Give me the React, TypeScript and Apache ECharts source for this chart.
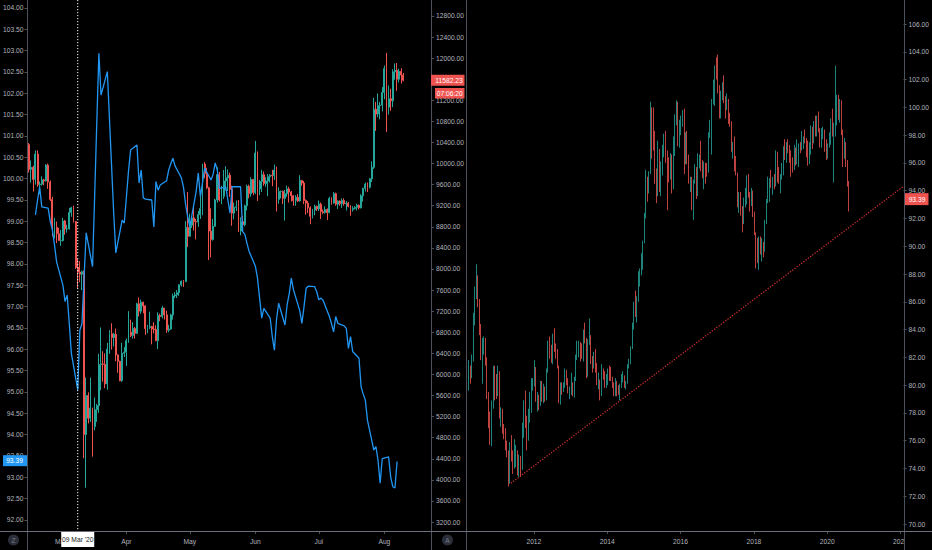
import React, { useEffect, useRef } from "react";
import * as echarts from "echarts";

// ---------------- data ----------------
const MONTH_NAMES = ["Jan", "Feb", "Mar", "Apr", "May", "Jun", "Jul", "Aug", "Sep", "Oct", "Nov", "Dec"];

// BTC/USD daily candles [open, high, low, close], one per day from btcStart
const btcStart = "2020-02-15";
const btcOHLC: number[][] = [
  [10360, 10390, 9830, 9890], [9890, 10060, 9640, 9930], [9930, 9960, 9470, 9700], [9700, 10250, 9600, 10180],
  [10180, 10250, 9560, 9600], [9600, 9660, 9420, 9610], [9610, 9760, 9580, 9690], [9690, 9710, 9590, 9670],
  [9670, 9990, 9660, 9970], [9970, 10000, 9520, 9650], [9650, 9680, 9290, 9320], [9320, 9370, 8620, 8780],
  [8780, 8970, 8580, 8790], [8790, 8900, 8490, 8670], [8670, 8780, 8530, 8540],
  // Mar
  [8540, 8740, 8440, 8540], [8540, 8970, 8520, 8910], [8910, 8930, 8650, 8760], [8760, 8840, 8690, 8760],
  [8760, 9160, 8750, 9070], [9070, 9180, 8990, 9160], [9160, 9200, 8880, 8900], [8900, 8910, 8000, 8030],
  [8030, 8190, 7630, 7940], [7940, 8150, 7750, 7900], [7900, 7970, 7600, 7950], [7930, 7970, 4410, 4860],
  [4860, 5940, 3850, 5600], [5600, 5660, 5070, 5170], [5170, 5940, 5100, 5360], [5360, 5370, 4440, 5010],
  [5010, 5560, 4940, 5330], [5330, 5440, 5100, 5410], [5410, 6390, 5270, 6190], [6190, 6890, 5700, 6200],
  [6200, 6440, 5860, 6190], [6190, 6400, 5740, 5820], [5820, 6600, 5710, 6480], [6480, 6840, 6390, 6770],
  [6770, 6970, 6470, 6700], [6700, 6790, 6530, 6760], [6760, 6870, 6250, 6370], [6370, 6380, 6030, 6250],
  [6250, 6260, 5870, 5880], [5880, 6600, 5860, 6400], [6400, 6520, 6330, 6420],
  // Apr
  [6420, 6680, 6160, 6640], [6640, 7200, 6600, 6800], [6800, 7040, 6710, 6740], [6740, 6990, 6680, 6870],
  [6870, 6900, 6680, 6780], [6780, 7360, 6770, 7340], [7340, 7460, 7100, 7200], [7200, 7420, 7150, 7370],
  [7370, 7380, 7160, 7300], [7300, 7310, 6750, 6870], [6870, 6940, 6780, 6890], [6890, 7190, 6860, 6910],
  [6910, 6920, 6570, 6860], [6860, 6990, 6780, 6850], [6850, 6930, 6630, 6640], [6640, 7180, 6480, 7120],
  [7120, 7150, 7010, 7100], [7100, 7300, 7060, 7260], [7260, 7260, 7040, 7130], [7130, 7210, 6790, 6840],
  [6840, 6940, 6800, 6860], [6860, 7150, 6850, 7130], [7130, 7530, 7040, 7490], [7490, 7560, 7450, 7510],
  [7510, 7600, 7450, 7550], [7550, 7710, 7490, 7700], [7700, 7780, 7670, 7770], [7770, 7790, 7660, 7760],
  [7760, 8910, 7750, 8790], [8790, 9460, 8420, 8620],
  // May
  [8620, 9050, 8620, 8830], [8830, 9000, 8780, 8970], [8970, 9190, 8730, 8900], [8900, 8950, 8560, 8890],
  [8890, 9100, 8800, 9030], [9030, 9380, 8950, 9150], [9150, 10000, 9020, 9990], [9990, 10030, 9720, 9810],
  [9810, 9920, 9520, 9540], [9540, 9560, 8170, 8720], [8720, 9150, 8220, 8560], [8560, 8950, 8540, 8810],
  [8810, 9330, 8800, 9310], [9310, 9930, 9260, 9790], [9790, 9840, 9280, 9310], [9310, 9580, 9230, 9380],
  [9380, 9880, 9330, 9670], [9670, 9950, 9490, 9730], [9730, 9890, 9480, 9780], [9780, 9830, 9370, 9510],
  [9510, 9580, 8820, 9060], [9060, 9260, 8940, 9170], [9170, 9300, 9100, 9180], [9180, 9310, 8700, 8720],
  [8720, 8980, 8640, 8900], [8900, 9010, 8700, 8840], [8840, 9220, 8810, 9200], [9200, 9600, 9110, 9570],
  [9570, 9600, 9340, 9430], [9430, 9740, 9370, 9700], [9700, 9700, 9400, 9450],
  // Jun
  [9450, 10430, 9420, 10200], [10200, 10230, 9290, 9520], [9520, 9690, 9400, 9660], [9660, 9880, 9460, 9790],
  [9790, 9850, 9580, 9620], [9620, 9740, 9560, 9670], [9670, 9800, 9380, 9750], [9750, 9800, 9640, 9780],
  [9780, 9880, 9570, 9770], [9770, 9980, 9690, 9880], [9880, 9940, 9090, 9320], [9320, 9550, 9240, 9470],
  [9470, 9490, 9340, 9470], [9470, 9490, 9230, 9340], [9340, 9500, 8920, 9430], [9430, 9580, 9370, 9520],
  [9520, 9560, 9260, 9460], [9460, 9480, 9280, 9390], [9390, 9400, 9200, 9300], [9300, 9400, 9200, 9360],
  [9360, 9420, 9270, 9290], [9290, 9780, 9280, 9680], [9680, 9690, 9580, 9630], [9630, 9670, 9230, 9300],
  [9300, 9320, 9030, 9250], [9250, 9290, 9060, 9160], [9160, 9190, 8850, 9000], [9000, 9140, 8960, 9120],
  [9120, 9220, 9020, 9190], [9190, 9200, 9100, 9140],
  // Jul
  [9140, 9300, 9100, 9230], [9230, 9260, 8950, 9090], [9090, 9130, 9040, 9070], [9070, 9190, 9050, 9130],
  [9130, 9150, 8930, 9070], [9070, 9370, 9060, 9340], [9340, 9360, 9220, 9250], [9250, 9460, 9240, 9430],
  [9430, 9450, 9200, 9230], [9230, 9300, 9140, 9290], [9290, 9300, 9200, 9240], [9240, 9340, 9160, 9300],
  [9300, 9340, 9200, 9240], [9240, 9290, 9110, 9250], [9250, 9270, 9170, 9190], [9190, 9210, 9010, 9130],
  [9130, 9190, 9090, 9150], [9150, 9190, 9130, 9170], [9170, 9240, 9110, 9210], [9210, 9220, 9130, 9160],
  [9160, 9420, 9150, 9390], [9390, 9540, 9280, 9530], [9530, 9640, 9470, 9610], [9610, 9640, 9460, 9550],
  [9550, 9730, 9530, 9710], [9710, 10040, 9650, 9930], [9930, 11250, 9900, 11030], [11030, 11170, 10620, 10940],
  [10940, 11330, 10880, 11100], [11100, 11170, 10840, 11110], [11110, 11450, 10990, 11350],
  // Aug
  [11350, 11860, 11220, 11800], [11800, 12100, 10600, 11070], [11070, 11480, 10930, 11230], [11230, 11420, 11000, 11190],
  [11190, 11790, 11070, 11740], [11740, 11900, 11590, 11770], [11770, 11910, 11380, 11600], [11600, 11800, 11540, 11750],
  [11750, 11810, 11520, 11680], [11680, 11720, 11560, 11582.23],
];

// US Dollar Index daily closes (overlay line on the left axis)
const dxyDaily: [string, number][] = [
  ["2020-02-18", 99.15], ["2020-02-19", 99.5], ["2020-02-20", 99.81], ["2020-02-21", 99.34],
  ["2020-02-24", 99.31], ["2020-02-25", 99.0], ["2020-02-26", 98.8], ["2020-02-27", 98.45], ["2020-02-28", 98.05],
  ["2020-03-02", 97.5], ["2020-03-03", 97.12], ["2020-03-04", 97.27], ["2020-03-05", 96.6], ["2020-03-06", 95.9],
  ["2020-03-09", 95.05], ["2020-03-10", 96.45], ["2020-03-11", 96.6], ["2020-03-12", 97.7], ["2020-03-13", 98.73],
  ["2020-03-16", 97.94], ["2020-03-17", 99.6], ["2020-03-18", 101.3], ["2020-03-19", 102.94], ["2020-03-20", 101.96],
  ["2020-03-23", 102.51], ["2020-03-24", 101.4], ["2020-03-25", 100.3], ["2020-03-26", 99.2], ["2020-03-27", 98.26],
  ["2020-03-30", 99.03], ["2020-03-31", 98.96], ["2020-04-01", 99.56], ["2020-04-02", 100.17], ["2020-04-03", 100.67],
  ["2020-04-06", 100.79], ["2020-04-07", 99.9], ["2020-04-08", 100.2], ["2020-04-09", 99.55], ["2020-04-10", 99.52],
  ["2020-04-13", 99.5], ["2020-04-14", 98.87], ["2020-04-15", 99.93], ["2020-04-16", 99.73], ["2020-04-17", 99.85],
  ["2020-04-20", 99.95], ["2020-04-21", 100.2], ["2020-04-22", 100.35], ["2020-04-23", 100.48], ["2020-04-24", 100.3],
  ["2020-04-27", 100.02], ["2020-04-28", 99.8], ["2020-04-29", 99.4], ["2020-04-30", 99.1], ["2020-05-01", 98.87],
  ["2020-05-04", 99.7], ["2020-05-05", 100.13], ["2020-05-06", 99.58], ["2020-05-07", 99.9], ["2020-05-08", 100.25],
  ["2020-05-11", 99.97], ["2020-05-12", 100.1], ["2020-05-13", 100.37], ["2020-05-14", 100.2], ["2020-05-15", 99.77],
  ["2020-05-18", 99.81], ["2020-05-19", 99.5], ["2020-05-20", 99.19], ["2020-05-21", 99.81], ["2020-05-22", 99.81],
  ["2020-05-25", 99.81], ["2020-05-26", 98.76], ["2020-05-27", 98.7], ["2020-05-28", 98.49], ["2020-05-29", 98.3],
  ["2020-06-01", 97.95], ["2020-06-02", 97.67], ["2020-06-03", 97.2], ["2020-06-04", 96.73], ["2020-06-05", 96.96],
  ["2020-06-08", 96.73], ["2020-06-09", 96.3], ["2020-06-10", 95.98], ["2020-06-11", 96.7], ["2020-06-12", 97.08],
  ["2020-06-15", 96.57], ["2020-06-16", 97.04], ["2020-06-17", 97.3], ["2020-06-18", 97.67], ["2020-06-19", 97.4],
  ["2020-06-22", 96.9], ["2020-06-23", 96.61], ["2020-06-24", 97.0], ["2020-06-25", 97.43], ["2020-06-26", 97.48],
  ["2020-06-29", 97.47], ["2020-06-30", 97.35], ["2020-07-01", 97.16], ["2020-07-02", 97.2], ["2020-07-03", 97.15],
  ["2020-07-06", 96.77], ["2020-07-07", 96.6], ["2020-07-08", 96.41], ["2020-07-09", 96.77], ["2020-07-10", 96.61],
  ["2020-07-13", 96.55], ["2020-07-14", 96.49], ["2020-07-15", 96.02], ["2020-07-16", 96.3], ["2020-07-17", 95.95],
  ["2020-07-20", 95.79], ["2020-07-21", 95.12], ["2020-07-22", 94.95], ["2020-07-23", 94.81], ["2020-07-24", 94.34],
  ["2020-07-27", 93.64], ["2020-07-28", 93.72], ["2020-07-29", 93.4], ["2020-07-30", 92.86], ["2020-07-31", 93.44],
  ["2020-08-03", 93.48], ["2020-08-04", 93.0], ["2020-08-05", 92.78], ["2020-08-06", 92.75], ["2020-08-07", 93.37],
];

// US Dollar Index long-term candles [open, high, low, close], two per month from 2010-03
const dxyLongStart = "2010-03";
const dxyLongOHLC: number[][] = [
  // 2010
  [80.4, 80.9, 79.6, 79.9], [79.9, 81.8, 79.6, 81.2], [81.2, 81.4, 80.1, 80.6], [80.6, 82.2, 80.5, 81.9],
  [81.9, 85.2, 81.7, 84.6], [84.6, 87.1, 84.3, 86.8], [86.8, 88.7, 86.2, 87.4], [87.4, 87.9, 85.6, 86.0],
  [86.0, 86.2, 83.6, 84.0], [84.0, 84.4, 81.8, 82.3], [82.3, 83.4, 80.1, 82.8], [82.8, 83.5, 82.2, 83.1],
  [83.1, 83.4, 81.4, 81.7], [81.7, 82.0, 79.0, 79.3], [79.3, 79.5, 76.9, 77.1], [77.1, 78.1, 75.7, 77.0],
  [77.0, 78.9, 75.6, 78.6], [78.6, 81.4, 78.3, 81.1], [81.1, 81.4, 78.9, 80.0], [80.0, 80.8, 79.0, 79.3],
  // 2011
  [79.3, 81.4, 79.2, 80.9], [80.9, 81.0, 77.6, 77.9], [77.9, 78.4, 77.0, 78.0], [78.0, 78.3, 76.5, 76.8],
  [76.8, 77.2, 76.1, 76.6], [76.6, 76.9, 75.3, 75.9], [75.9, 76.0, 74.8, 75.0], [75.0, 75.3, 72.7, 73.0],
  [73.0, 75.9, 72.9, 75.7], [75.7, 76.4, 74.5, 74.6], [74.6, 75.3, 73.6, 74.3], [74.3, 76.1, 74.0, 74.4],
  [74.4, 75.7, 74.1, 74.8], [74.8, 75.3, 73.5, 73.9], [73.9, 75.0, 73.4, 74.2], [74.2, 74.9, 73.4, 74.1],
  [74.1, 77.3, 73.9, 76.9], [76.9, 78.9, 76.2, 78.6], [78.6, 79.6, 76.9, 77.4], [77.4, 77.8, 75.3, 76.2],
  [76.2, 78.3, 76.0, 77.5], [77.5, 79.5, 77.3, 78.4], [78.4, 80.5, 78.0, 80.0], [80.0, 80.5, 79.6, 80.2],
  // 2012
  [80.2, 81.8, 79.9, 81.2], [81.2, 81.3, 78.8, 79.0], [79.0, 79.5, 78.1, 79.0], [79.0, 79.3, 78.2, 78.6],
  [78.6, 80.3, 78.5, 80.0], [80.0, 80.3, 78.8, 79.0], [79.0, 80.1, 78.7, 79.6], [79.6, 79.9, 78.8, 79.1],
  [79.1, 81.2, 78.9, 81.0], [81.0, 83.2, 80.9, 83.1], [83.1, 83.5, 81.9, 82.3], [82.3, 82.9, 81.6, 81.7],
  [81.7, 83.7, 81.5, 83.3], [83.3, 84.1, 82.4, 82.7], [82.7, 83.0, 81.9, 82.4], [82.4, 82.6, 81.2, 81.3],
  [81.3, 81.4, 78.7, 79.0], [79.0, 80.2, 78.6, 79.9], [79.9, 80.2, 79.3, 79.7], [79.7, 80.2, 79.5, 80.1],
  [80.1, 81.2, 79.8, 81.0], [81.0, 81.1, 80.0, 80.2], [80.2, 80.5, 79.4, 79.5], [79.5, 79.9, 79.0, 79.8],
  // 2013
  [79.8, 80.9, 79.3, 79.9], [79.9, 80.2, 79.2, 79.3], [79.3, 80.6, 79.1, 80.4], [80.4, 82.2, 80.3, 81.9],
  [81.9, 83.2, 81.8, 82.7], [82.7, 83.2, 82.0, 83.0], [83.0, 83.1, 81.7, 82.2], [82.2, 83.0, 81.9, 82.0],
  [82.0, 84.0, 81.7, 83.8], [83.8, 84.5, 83.0, 83.3], [83.3, 83.4, 80.5, 80.9], [80.9, 83.3, 80.6, 83.1],
  [83.1, 84.8, 82.9, 83.2], [83.2, 83.6, 81.5, 81.8], [81.8, 82.1, 80.9, 81.4], [81.4, 82.4, 81.2, 82.1],
  [82.1, 82.6, 80.9, 81.3], [81.3, 81.6, 80.0, 80.2], [80.2, 80.9, 79.7, 80.3], [80.3, 80.4, 78.9, 79.3],
  [79.3, 81.5, 79.2, 81.0], [81.0, 81.2, 80.4, 80.7], [80.7, 81.0, 79.8, 80.0], [80.0, 80.8, 79.8, 80.2],
  // 2014
  [80.2, 81.2, 80.0, 81.1], [81.1, 81.4, 80.3, 80.9], [80.9, 81.3, 80.3, 80.4], [80.4, 80.6, 79.8, 79.9],
  [79.9, 80.2, 79.2, 79.3], [79.3, 80.5, 79.2, 80.1], [80.1, 80.3, 79.2, 79.6], [79.6, 80.0, 79.3, 79.5],
  [79.5, 80.1, 78.9, 80.0], [80.0, 80.8, 79.8, 80.5], [80.5, 81.0, 80.2, 80.6], [80.6, 80.7, 79.8, 79.9],
  [79.9, 80.3, 79.7, 80.2], [80.2, 81.5, 80.1, 81.4], [81.4, 81.9, 81.2, 81.6], [81.6, 82.8, 81.5, 82.7],
  [82.7, 84.5, 82.6, 84.3], [84.3, 86.0, 84.0, 85.9], [85.9, 86.8, 84.9, 85.2], [85.2, 86.4, 84.5, 86.1],
  [86.1, 88.2, 86.0, 87.6], [87.6, 88.4, 87.1, 88.3], [88.3, 89.5, 87.9, 88.5], [88.5, 90.4, 88.3, 90.3],
  // 2015
  [90.3, 92.4, 90.2, 92.3], [92.3, 95.5, 92.0, 94.8], [94.8, 95.0, 93.2, 94.1], [94.1, 95.4, 93.8, 95.3],
  [95.3, 100.4, 95.2, 99.3], [99.3, 100.0, 96.3, 98.4], [98.4, 100.0, 96.9, 98.0], [98.0, 98.3, 94.5, 94.6],
  [94.6, 95.6, 93.1, 93.7], [93.7, 97.6, 93.6, 96.9], [96.9, 97.0, 93.9, 94.5], [94.5, 96.1, 93.6, 95.5],
  [95.5, 97.3, 95.1, 97.0], [97.0, 98.1, 96.4, 97.3], [97.3, 98.3, 96.0, 96.5], [96.5, 96.9, 92.6, 95.9],
  [95.9, 96.4, 94.6, 95.1], [95.1, 96.7, 94.8, 96.4], [96.4, 96.6, 93.8, 94.5], [94.5, 97.9, 94.1, 96.9],
  [96.9, 99.5, 96.5, 99.0], [99.0, 100.5, 98.7, 100.2], [100.2, 100.4, 97.2, 97.5], [97.5, 99.1, 97.1, 98.6],
  // 2016
  [98.6, 99.4, 98.0, 99.0], [99.0, 99.8, 98.6, 99.6], [99.6, 99.9, 95.2, 96.0], [96.0, 98.2, 95.9, 98.1],
  [98.1, 98.3, 95.9, 96.3], [96.3, 96.6, 94.5, 94.6], [94.6, 95.0, 93.9, 94.6], [94.6, 95.0, 92.6, 93.1],
  [93.1, 94.8, 91.9, 94.6], [94.6, 95.9, 94.5, 95.6], [95.6, 95.7, 93.4, 94.2], [94.2, 96.7, 93.6, 96.0],
  [96.0, 96.6, 95.6, 96.5], [96.5, 97.6, 95.4, 95.6], [95.6, 96.2, 94.9, 95.2], [95.2, 96.1, 94.1, 96.0],
  [96.0, 96.0, 94.5, 95.6], [95.6, 96.0, 95.0, 95.4], [95.4, 98.2, 95.3, 97.9], [97.9, 99.1, 97.8, 98.4],
  [98.4, 100.6, 96.6, 100.4], [100.4, 102.0, 100.2, 101.5], [101.5, 103.0, 100.1, 102.9], [102.9, 103.6, 102.0, 102.2],
  // 2017
  [102.2, 103.8, 101.0, 101.3], [101.3, 101.6, 99.2, 99.5], [99.5, 101.2, 99.2, 100.9], [100.9, 101.8, 100.5, 101.1],
  [101.1, 102.3, 100.3, 100.6], [100.6, 100.8, 99.2, 100.3], [100.3, 101.0, 99.8, 100.5], [100.5, 100.6, 98.8, 99.0],
  [99.0, 99.6, 98.6, 98.9], [98.9, 99.0, 96.8, 97.0], [97.0, 97.5, 96.3, 97.2], [97.2, 97.9, 95.4, 95.6],
  [95.6, 96.5, 95.1, 95.2], [95.2, 95.3, 92.8, 92.9], [92.9, 93.9, 92.4, 93.4], [93.4, 93.9, 92.2, 92.7],
  [92.7, 92.9, 91.0, 91.9], [91.9, 93.5, 91.6, 93.1], [93.1, 94.2, 92.8, 93.1], [93.1, 95.1, 93.0, 94.6],
  [94.6, 95.2, 93.5, 93.7], [93.7, 93.9, 92.5, 93.0], [93.0, 94.2, 92.9, 93.9], [93.9, 94.0, 92.1, 92.2],
  // 2018
  [92.2, 92.5, 90.8, 90.9], [90.9, 91.0, 88.4, 89.1], [89.1, 90.6, 88.8, 89.0], [89.0, 90.7, 88.3, 90.6],
  [90.6, 90.7, 89.4, 90.1], [90.1, 90.6, 88.9, 90.1], [90.1, 90.3, 89.2, 89.8], [89.8, 91.9, 89.6, 91.7],
  [91.7, 93.4, 91.6, 93.3], [93.3, 95.0, 93.1, 94.0], [94.0, 94.9, 93.2, 94.8], [94.8, 95.5, 94.2, 94.6],
  [94.6, 95.0, 93.7, 94.7], [94.7, 95.2, 94.1, 94.5], [94.5, 96.9, 94.3, 96.7], [96.7, 96.8, 94.6, 95.1],
  [95.1, 95.7, 94.5, 94.9], [94.9, 95.2, 93.8, 95.1], [95.1, 96.0, 94.8, 95.3], [95.3, 97.2, 95.1, 96.9],
  [96.9, 97.7, 96.2, 96.5], [96.5, 97.5, 96.0, 97.2], [97.2, 97.7, 96.7, 97.0], [97.0, 97.3, 96.0, 96.2],
  // 2019
  [96.2, 96.9, 95.0, 95.7], [95.7, 96.4, 95.3, 95.6], [95.6, 97.3, 95.5, 96.9], [96.9, 97.1, 95.8, 96.2],
  [96.2, 97.7, 95.9, 96.6], [96.6, 97.4, 95.7, 97.3], [97.3, 97.5, 96.7, 97.0], [97.0, 98.3, 96.9, 97.5],
  [97.5, 97.9, 97.0, 97.8], [97.8, 98.4, 97.4, 97.7], [97.7, 97.8, 96.4, 97.2], [97.2, 97.6, 95.8, 96.1],
  [96.1, 97.5, 95.9, 96.8], [96.8, 98.7, 96.6, 98.5], [98.5, 98.6, 97.0, 98.1], [98.1, 99.0, 97.4, 98.9],
  [98.9, 99.4, 97.9, 98.4], [98.4, 99.4, 97.9, 99.1], [99.1, 99.7, 98.2, 98.3], [98.3, 98.5, 97.1, 97.4],
  [97.4, 98.5, 97.1, 98.3], [98.3, 98.6, 97.7, 98.3], [98.3, 98.4, 96.8, 97.2], [97.2, 97.7, 96.2, 96.4],
  // 2020
  [96.4, 97.4, 96.3, 97.3], [97.3, 98.2, 97.1, 97.4], [97.4, 99.2, 97.3, 99.1], [99.1, 99.9, 97.9, 98.1],
  [98.1, 98.9, 94.6, 98.7], [98.7, 103.0, 97.9, 99.0], [99.0, 100.9, 98.7, 99.4], [99.4, 100.9, 99.1, 99.0],
  [99.0, 100.6, 98.9, 100.4], [100.4, 100.5, 98.0, 98.3], [98.3, 98.4, 95.7, 97.0], [97.0, 97.8, 96.3, 97.4],
  [97.4, 97.5, 95.7, 96.0], [96.0, 96.2, 94.3, 94.6], [94.6, 94.7, 92.5, 93.39],
];

// red dotted support trend line on the long-term panel
const trendLine: [string, number][] = [["2011-05-17", 72.93], ["2022-01-31", 94.32]];

// tick labels
const leftTicks = [92.0, 92.5, 93.0, 93.5, 94.0, 94.5, 95.0, 95.5, 96.0, 96.5, 97.0, 97.5, 98.0, 98.5, 99.0, 99.5, 100.0, 100.5, 101.0, 101.5, 102.0, 102.5, 103.0, 103.5, 104.0];
const btcTicks = [3200, 3600, 4000, 4400, 4800, 5200, 5600, 6000, 6400, 6800, 7200, 7600, 8000, 8400, 8800, 9200, 9600, 10000, 10400, 10800, 11200, 11600, 12000, 12400, 12800];
const rightTicks = [70, 72, 74, 76, 78, 80, 82, 84, 86, 88, 90, 92, 94, 96, 98, 100, 102, 104, 106];
const monthTicks = ["2020-03-01", "2020-04-01", "2020-05-01", "2020-06-01", "2020-07-01", "2020-08-01"];
const yearTicks = ["2012-01-01", "2014-01-01", "2016-01-01", "2018-01-01", "2020-01-01", "2022-01-01"];

// badges
const lastBtcPrice = 11582.23;
const barCountdown = "07:06:20";
const lastDxyPrice = 93.39;
const crosshairDate = "2020-03-09";
const crosshairLabel = "09 Mar '20";

// ---------------- helpers / styles ----------------
const DAY = 86400000;
const t = (s: string) => Date.UTC(+s.slice(0, 4), +s.slice(5, 7) - 1, s.length > 7 ? +s.slice(8, 10) : 1);

const FONT = "'Liberation Sans', Arial, sans-serif";
const FS = 6.7;
const TEXT = "#b2b5be";
const CHROME = "#4c515c";
const UP = "#26a69a";
const DOWN = "#ef5350";
const BLUE = "#2196f3";

const W = 932;
const H = 550;
const AXIS_Y = 531;
const LEFT_AXIS_X = 27;
const MID_AXIS_X = 431;
const DIVIDER_X = 466;
const RIGHT_PANEL_X = 467;
const RIGHT_AXIS_X = 904.5;

export default function App() {
  const ref = useRef<HTMLDivElement>(null);

  useEffect(() => {
    if (!ref.current) return;
    const chart = echarts.init(ref.current, null, { renderer: "svg" });

    const btcT0 = t(btcStart);
    const btcData = btcOHLC.map((r, i) => [btcT0 + i * DAY, r[0], r[3], r[2], r[1]]);
    const dxyLine = dxyDaily.map(([d, v]) => [t(d), v]);
    const y0 = +dxyLongStart.slice(0, 4);
    const m0 = +dxyLongStart.slice(5, 7) - 1;
    const dxyLongData = dxyLongOHLC.map((r, i) => {
      const mi = m0 + Math.floor(i / 2);
      const ts = Date.UTC(y0 + Math.floor(mi / 12), mi % 12, i % 2 === 0 ? 8 : 23);
      return [ts, r[0], r[3], r[2], r[1]];
    });

    const mar1 = t("2020-03-01");
    const labelBase = { color: TEXT, fontSize: FS, fontFamily: FONT };
    const tickStyle = { color: CHROME, width: 1 };

    const yAxisCommon = (ticks: number[], margin: number) => ({
      type: "value" as const,
      axisLine: { show: false },
      splitLine: { show: false },
      axisTick: { show: true, length: 3, customValues: ticks, lineStyle: tickStyle },
      axisLabel: { ...labelBase, margin, customValues: ticks, formatter: (v: number) => v.toFixed(2) },
    });

    const option: any = {
      animation: false,
      backgroundColor: "#000000",
      grid: [
        { left: LEFT_AXIS_X, right: W - MID_AXIS_X, top: 0, bottom: H - AXIS_Y },
        { left: RIGHT_PANEL_X, right: W - RIGHT_AXIS_X, top: 0, bottom: H - AXIS_Y },
      ],
      xAxis: [
        {
          type: "value",
          gridIndex: 0,
          min: mar1 - 15.78 * DAY,
          max: mar1 + 175.05 * DAY,
          axisLine: { show: false },
          splitLine: { show: false },
          axisTick: { show: true, length: 3, customValues: monthTicks.map(t), lineStyle: tickStyle },
          axisLabel: {
            ...labelBase,
            margin: 7,
            customValues: monthTicks.map(t),
            formatter: (v: number) => MONTH_NAMES[new Date(v).getUTCMonth()],
          },
        },
        {
          type: "value",
          gridIndex: 1,
          min: t("2010-03-06"),
          max: t("2022-01-31"),
          axisLine: { show: false },
          splitLine: { show: false },
          axisTick: { show: true, length: 3, customValues: yearTicks.map(t), lineStyle: tickStyle },
          axisLabel: {
            ...labelBase,
            margin: 7,
            customValues: yearTicks.map(t),
            formatter: (v: number) => String(new Date(v).getUTCFullYear()),
          },
        },
      ],
      yAxis: [
        { ...yAxisCommon(leftTicks, 4), gridIndex: 0, position: "left", min: 91.742, max: 104.1875 },
        { ...yAxisCommon(btcTicks, 5), gridIndex: 0, position: "right", min: 3029.3, max: 13103.5 },
        { ...yAxisCommon(rightTicks, 5), gridIndex: 1, position: "right", min: 69.496, max: 107.728 },
      ],
      series: [
        {
          name: "BTCUSD",
          type: "candlestick",
          xAxisIndex: 0,
          yAxisIndex: 1,
          barWidth: 1.4,
          encode: { x: 0, y: [1, 2, 3, 4] },
          itemStyle: { color: UP, color0: DOWN, borderColor: UP, borderColor0: DOWN, borderColorDoji: UP, borderWidth: 1 },
          data: btcData,
        },
        {
          name: "DXY",
          type: "line",
          xAxisIndex: 0,
          yAxisIndex: 0,
          showSymbol: false,
          symbol: "none",
          lineStyle: { color: BLUE, width: 1.3 },
          data: dxyLine,
          z: 5,
        },
        {
          name: "DXY long",
          type: "candlestick",
          xAxisIndex: 1,
          yAxisIndex: 2,
          barWidth: 1,
          encode: { x: 0, y: [1, 2, 3, 4] },
          itemStyle: { color: UP, color0: DOWN, borderColor: UP, borderColor0: DOWN, borderColorDoji: UP, borderWidth: 0.8 },
          data: dxyLongData,
        },
        {
          name: "Trend",
          type: "line",
          xAxisIndex: 1,
          yAxisIndex: 2,
          showSymbol: false,
          symbol: "none",
          lineStyle: { color: "#d32f2f", width: 1.2, type: [1.3, 1.5] },
          data: trendLine.map(([d, v]) => [t(d), v]),
          z: 6,
        },
      ],
    };

    chart.setOption(option);

    const yBtc = chart.convertToPixel({ yAxisIndex: 1 }, lastBtcPrice) as number;
    const yDxy = chart.convertToPixel({ yAxisIndex: 0 }, lastDxyPrice) as number;
    const yDxyR = chart.convertToPixel({ yAxisIndex: 2 }, dxyLongOHLC[dxyLongOHLC.length - 1][3]) as number;
    const xCross = chart.convertToPixel({ xAxisIndex: 0 }, t(crosshairDate)) as number;

    const vline = (x: number) => ({
      type: "line", z: 50, silent: true,
      shape: { x1: x, y1: 0, x2: x, y2: H },
      style: { stroke: CHROME, lineWidth: 1 },
    });
    const badgeText = (x: number, y: number, text: string, fill: string, size = FS) => ({
      type: "text", z: 62, silent: true, x, y,
      style: { text, fill, fontSize: size, fontFamily: FONT, align: "center", verticalAlign: "middle" },
    });
    const rect = (x: number, y: number, w: number, h: number, fill: string, z = 60) => ({
      type: "rect", z, silent: true, shape: { x, y, width: w, height: h }, style: { fill },
    });

    const graphic: any[] = [
      rect(RIGHT_AXIS_X + 0.5, AXIS_Y + 2, W - RIGHT_AXIS_X, H - AXIS_Y - 2, "#000000", 40),
      vline(LEFT_AXIS_X + 0.5),
      vline(MID_AXIS_X + 0.5),
      vline(DIVIDER_X + 0.5),
      vline(RIGHT_AXIS_X),
      {
        type: "line", z: 50, silent: true,
        shape: { x1: 0, y1: AXIS_Y + 0.5, x2: W, y2: AXIS_Y + 0.5 },
        style: { stroke: "#6a6f7a", lineWidth: 1 },
      },
      // crosshair
      {
        type: "line", z: 55, silent: true,
        shape: { x1: xCross, y1: 0, x2: xCross, y2: AXIS_Y },
        style: { stroke: "#ffffff", lineWidth: 1, lineDash: [1.2, 1.8] },
      },
      rect(xCross - 16.5, AXIS_Y + 1, 33, 15, "#ffffff"),
      badgeText(xCross, AXIS_Y + 8.5, crosshairLabel, "#131722"),
      // BTC last price + countdown
      rect(MID_AXIS_X, yBtc - 5.5, 33.5, 11, DOWN),
      badgeText(MID_AXIS_X + 18, yBtc, lastBtcPrice.toFixed(2), "#ffffff"),
      rect(MID_AXIS_X + 4, yBtc + 7.8, 29.5, 10.5, DOWN),
      badgeText(MID_AXIS_X + 18.75, yBtc + 13.05, barCountdown, "#ffffff"),
      // DXY last price (left axis)
      rect(3, yDxy - 5.5, LEFT_AXIS_X - 3, 11, BLUE),
      badgeText(14.5, yDxy, lastDxyPrice.toFixed(2), "#ffffff"),
      // DXY last price (right panel)
      rect(RIGHT_AXIS_X + 0.5, yDxyR - 6, 23.5, 12, DOWN),
      badgeText(RIGHT_AXIS_X + 12.5, yDxyR, lastDxyPrice.toFixed(2), "#ffffff"),
      // panel buttons
      { type: "circle", z: 60, silent: true, shape: { cx: 13.5, cy: 540, r: 5.5 }, style: { fill: "#2a2e39" } },
      badgeText(13.5, 540, "Z", "#787b86"),
      { type: "circle", z: 60, silent: true, shape: { cx: 447.5, cy: 540, r: 5.5 }, style: { fill: "#2a2e39" } },
      badgeText(447.5, 540, "A", "#787b86"),
    ];

    chart.setOption({ graphic });

    return () => chart.dispose();
  }, []);

  return (
    <div
      ref={ref}
      style={{ position: "fixed", left: 0, top: 0, width: W, height: H, background: "#000000" }}
    />
  );
}
